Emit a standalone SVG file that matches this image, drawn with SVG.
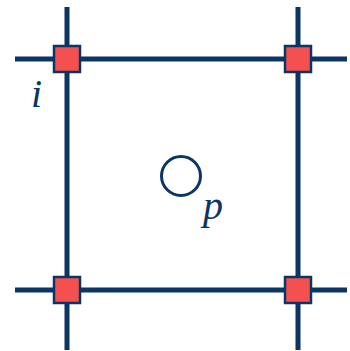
<svg xmlns="http://www.w3.org/2000/svg" width="350" height="351" viewBox="0 0 350 351">
<style>
.ln{stroke:#0b3563;stroke-width:5;fill:none}
.nd{fill:#f55050;stroke:#0b3563;stroke-width:2.5}
.lb{font-family:"Liberation Serif",serif;font-style:italic;font-size:40px;fill:#0b3563}
</style>
<rect width="350" height="351" fill="#fff"/>
<g id="connectors">
<line class="ln" x1="67" y1="7" x2="67" y2="350"/>
<line class="ln" x1="298" y1="7" x2="298" y2="350"/>
<line class="ln" x1="15" y1="59" x2="347" y2="59"/>
<line class="ln" x1="15" y1="290" x2="347" y2="290"/>
</g>
<g id="n1"><rect class="nd" x="54" y="46" width="26" height="26"/></g>
<g id="n2"><rect class="nd" x="285" y="46" width="26" height="26"/></g>
<g id="n3"><rect class="nd" x="54" y="277" width="26" height="26"/></g>
<g id="n4"><rect class="nd" x="285" y="277" width="26" height="26"/></g>
<g id="p"><circle cx="181" cy="176" r="19.5" fill="none" stroke="#0b3563" stroke-width="3"/></g>
<text class="lb" x="31" y="107">i</text>
<text class="lb" x="203" y="219">p</text>
</svg>
